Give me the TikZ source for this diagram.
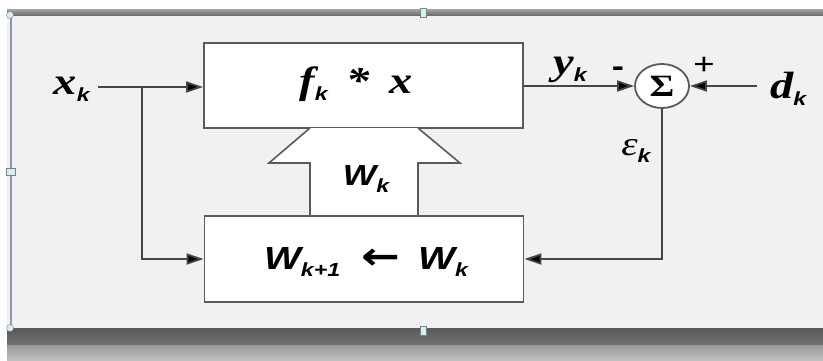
\documentclass[tikz,border=0pt]{standalone}
\usepackage{graphicx}
\usepackage{fontspec}
\setmainfont{Liberation Serif}
\newfontfamily\sansf{Liberation Sans}
\newfontfamily\dejaf{DejaVu Sans}
\usetikzlibrary{arrows.meta,shapes.geometric}
\definecolor{bodygray}{HTML}{F1F1F1}
\definecolor{linegray}{HTML}{454545}
\definecolor{boxgray}{HTML}{5A5A5A}
\definecolor{handleblue}{HTML}{D6EEF5}
\definecolor{edgeblue}{HTML}{8A98B4}
\newcommand{\hs}[1]{\scalebox{1.22}[1]{#1}}
\newcommand{\mysub}[1]{\raisebox{-7pt}{\sansf\bfseries\itshape\fontsize{19}{19}\selectfont #1}}
\newcommand{\bigbi}{\bfseries\itshape\fontsize{38}{38}\selectfont}
\newcommand{\wfont}{\sansf\bfseries\itshape\fontsize{29}{29}\selectfont}
\newcommand{\wbig}{\sansf\bfseries\itshape\fontsize{32}{32}\selectfont}
\tikzset{
  blockbox/.style={draw=boxgray, line width=1.8pt, fill=white, minimum width=319pt, inner sep=0pt},
  conn/.style={draw=linegray, line width=1.8pt, -{Triangle[length=17pt,width=11pt,fill=black]}},
  handle/.style={draw=gray, line width=0.6pt, fill=handleblue, minimum width=6pt, minimum height=9pt, inner sep=0pt},
  lbl/.style={inner sep=0pt, text=black}
}
\begin{document}
\begin{tikzpicture}[x=1pt,y=-1pt]
\useasboundingbox (0,0) rectangle (823,360);
% window frame of the screenshot
\fill[white] (0,0) rectangle (823,360);
\shade[top color=gray!70, bottom color=black!60] (7,9) rectangle (823,16);
\fill[bodygray] (7,16) rectangle (823,328);
\fill[edgeblue] (9.5,16) rectangle (12,328);
\shade[top color=black!65, bottom color=black!55] (7,328) rectangle (823,345);
\shade[top color=gray!80, bottom color=gray!50] (7,345) rectangle (823,360);
\node[handle] (h1) at (423,13) {};
\node[handle] (h2) at (423,331) {};
\node[handle, minimum width=9pt, minimum height=7pt] (h3) at (11,172) {};
\node[circle, draw=gray, fill=handleblue, minimum size=7pt, inner sep=0pt] (h4) at (10,15) {};
\node[circle, draw=gray, fill=handleblue, minimum size=7pt, inner sep=0pt] (h5) at (10,328) {};

% blocks
\node[blockbox, minimum height=85pt] (filt) at (363.5,85.5) {};
\node[lbl] (filttxt) at (356,84) {\hs{\bigbi f\mysub{k} \,*\, x}};
\node[blockbox, minimum height=86pt] (upd) at (364,259) {};
\node[lbl] (updtxt) at (366,262) {\hs{\wbig W\mysub{k+1}\; {\dejaf\bfseries\fontsize{38}{38}\selectfont ←}\, W\mysub{k}}};

% hollow arrow between blocks
\coordinate (hbL) at (310,216);
\coordinate (hbR) at (418,216);
\draw[draw=boxgray, line width=1.6pt, fill=white, line join=miter]
  (310,128) -- (269,163) -- (310,163) -- (hbL) -- (hbR) -- (418,163) -- (460,163) -- (418,128);
\node[lbl] (wk) at (366,179) {\hs{\wfont W\mysub{k}}};

% summing junction
\node[ellipse, draw=boxgray, line width=1.8pt, fill=white, minimum width=54pt, minimum height=44pt, inner sep=0pt] (sum) at (662,86) {\hs{\bfseries\fontsize{31}{31}\selectfont Σ}};

% labels
\node[lbl, anchor=east] (xk) at (90,89) {\hs{\bigbi x\mysub{k}}};
\node[lbl] (yk) at (570,70) {\hs{\bigbi y\mysub{k}}};
\node[lbl, anchor=west] (dk) at (770,89) {\hs{\bigbi d\mysub{k}}};
\node[lbl] (ek) at (636,151) {\hs{{\itshape\fontsize{34}{34}\selectfont ε}\mysub{k}}};
\node[lbl] (minus) at (618,72) {\hs{\sansf\bfseries\fontsize{30}{30}\selectfont -}};
\node[lbl] (plus) at (704,66) {\hs{\sansf\fontsize{30}{30}\selectfont +}};

% connectors
\coordinate (xs) at (98,87);
\coordinate (br) at (142,87);
\coordinate (brd) at (142,259);
\coordinate (ds) at (757,86);
\coordinate (ec) at (662,259);
\draw[conn] (xs) -- (filt.west |- xs);
\draw[conn] (br) -- (brd) -- (upd.west |- brd);
\draw[conn] (filt.east |- sum.west) -- (sum.west);
\draw[conn] (ds) -- (sum.east);
\draw[conn] (sum.south) -- (ec) -- (upd.east |- ec);
\end{tikzpicture}
\end{document}
